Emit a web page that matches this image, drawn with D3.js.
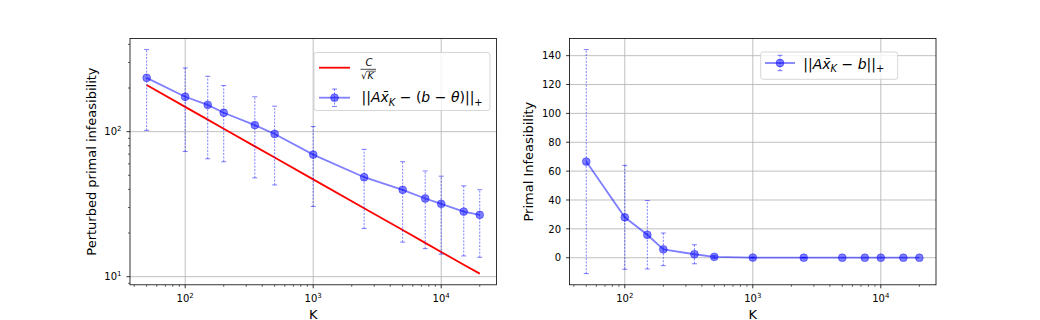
<!DOCTYPE html>
<html><head><meta charset="utf-8">
<script src="https://cdn.jsdelivr.net/npm/d3@7"></script>
<style>
html,body{margin:0;padding:0;background:#fff;}
svg{display:block;font-family:"DejaVu Sans",sans-serif;}
</style></head>
<body><svg id="c" width="1040" height="320"></svg>
<script>
// ---- data ----
const K = [50, 100, 150, 200, 350, 500, 1000, 2500, 5000, 7500, 10000, 15000, 20000];
const pertMean = [235, 174, 153, 135, 111, 96.4, 69.5, 48.5, 39.7, 34.6, 31.8, 28.1, 26.7];
const pertStd  = [133, 101, 88, 73, 63, 53.5, 39, 27, 22.4, 19, 17.5, 14.2, 13.1];
const boundC   = [209.6, 148.2, 121.0, 104.8, 79.2, 66.3, 46.9, 29.6, 21.0, 17.1, 14.8, 12.1, 10.5];
const primMean = [66.6, 28.0, 15.9, 5.8, 2.4, 0.6, 0.1, 0.05, 0.03, 0.02, 0.02, 0.01, 0.01];
const primStd  = [77.6, 36.0, 23.7, 11.3, 6.6, 1.0, 0.2, 0.1, 0, 0, 0, 0, 0];
const xMajor = [100, 1000, 10000];
const xMajorExp = ["2", "3", "4"];
const yLeftMajor = [10, 100];
const yLeftMajorExp = ["1", "2"];
const yRightTicks = [0, 20, 40, 60, 80, 100, 120, 140];

const svg = d3.select("#c");
const BLUE = "blue", RED = "red", GRID = "#b0b0b0";
const LABEL_FS = 13;

function logPadDomain(lo, hi) {
  const a = Math.log10(lo), b = Math.log10(hi), p = (b - a) * 0.05;
  return [Math.pow(10, a - p), Math.pow(10, b + p)];
}
function linPadDomain(lo, hi) { const p = (hi - lo) * 0.05; return [lo - p, hi + p]; }
function minorLog(dom) {
  const out = [];
  for (let d = -1; d <= 6; d++) for (let m = 2; m <= 9; m++) {
    const v = m * Math.pow(10, d);
    if (v >= dom[0] && v <= dom[1]) out.push(v);
  }
  return out;
}

function mtext(g, x, y, parts, fs, anchor) {
  const t = g.append("text").attr("x", x).attr("y", y).attr("font-size", fs)
    .attr("text-anchor", anchor || "start").style("white-space", "pre").attr("fill", "#000");
  let cur = 0;
  parts.forEach(p => {
    const off = p.sub ? fs * 0.26 : (p.sup ? -fs * 0.42 : 0);
    const s = t.append("tspan").text(p.t);
    if (off - cur !== 0) s.attr("dy", off - cur);
    cur = off;
    if (p.i) s.attr("font-style", "italic");
    if (p.sub || p.sup) s.attr("font-size", fs * 0.7);
  });
  return t;
}

const yTop = 38.4, yBot = 284.8;
const panels = [
  {x0: 130, x1: 496.4},
  {x0: 569.6, x1: 936}
];

const xDom = logPadDomain(d3.min(K), d3.max(K));

function drawXGrid(g, x) {
  xMajor.forEach(v => g.append("line").attr("x1", x(v)).attr("x2", x(v)).attr("y1", yTop).attr("y2", yBot)
    .attr("stroke", GRID).attr("stroke-width", 0.8));
}
function drawXTicks(g, x) {
  xMajor.forEach((v, i) => {
    g.append("line").attr("x1", x(v)).attr("x2", x(v)).attr("y1", yBot).attr("y2", yBot + 3.5).attr("stroke", "#000").attr("stroke-width", 0.8);
    mtext(g, x(v), yBot + 17, [{t: "10"}, {t: xMajorExp[i], sup: true}], 10, "middle");
  });
  minorLog(xDom).forEach(v => g.append("line").attr("x1", x(v)).attr("x2", x(v)).attr("y1", yBot).attr("y2", yBot + 2).attr("stroke", "#000").attr("stroke-width", 0.6));
}

function errorbars(g, x, y, means, stds) {
  K.forEach((k, i) => {
    if (stds[i] <= 0) return;
    const a = y(means[i] - stds[i]), b = y(means[i] + stds[i]), cx = x(k);
    g.append("line").attr("x1", cx).attr("x2", cx).attr("y1", a).attr("y2", b)
      .attr("stroke", BLUE).attr("stroke-opacity", 0.5).attr("stroke-width", 1).attr("stroke-dasharray", "2,1.4");
    [a, b].forEach(yy => g.append("line").attr("x1", cx - 2.5).attr("x2", cx + 2.5).attr("y1", yy).attr("y2", yy)
      .attr("stroke", BLUE).attr("stroke-opacity", 0.5).attr("stroke-width", 1));
  });
}
function seriesLine(g, x, y, means) {
  const line = d3.line().x((d, i) => x(K[i])).y(d => y(d));
  g.append("path").datum(means).attr("d", line).attr("fill", "none")
    .attr("stroke", BLUE).attr("stroke-opacity", 0.5).attr("stroke-width", 1.8);
  g.selectAll(null).data(means).enter().append("circle")
    .attr("cx", (d, i) => x(K[i])).attr("cy", d => y(d)).attr("r", 3.9)
    .attr("fill", BLUE).attr("fill-opacity", 0.5).attr("stroke", BLUE).attr("stroke-opacity", 0.5).attr("stroke-width", 0.8);
}
function legendHandle(g, x0, x1, yc, eh) {
  const cx = (x0 + x1) / 2;
  g.append("line").attr("x1", x0).attr("x2", x1).attr("y1", yc).attr("y2", yc).attr("stroke", BLUE).attr("stroke-opacity", 0.5).attr("stroke-width", 1.8);
  g.append("line").attr("x1", cx).attr("x2", cx).attr("y1", yc - eh).attr("y2", yc + eh).attr("stroke", BLUE).attr("stroke-opacity", 0.5).attr("stroke-dasharray", "2,1.4");
  [yc - eh, yc + eh].forEach(yy => g.append("line").attr("x1", cx - 2.5).attr("x2", cx + 2.5).attr("y1", yy).attr("y2", yy).attr("stroke", BLUE).attr("stroke-opacity", 0.5));
  g.append("circle").attr("cx", cx).attr("cy", yc).attr("r", 3.9).attr("fill", BLUE).attr("fill-opacity", 0.5).attr("stroke", BLUE).attr("stroke-opacity", 0.5).attr("stroke-width", 0.8);
}
function frame(g, p) {
  g.append("rect").attr("x", p.x0).attr("y", yTop).attr("width", p.x1 - p.x0).attr("height", yBot - yTop)
    .attr("fill", "none").attr("stroke", "#000").attr("stroke-width", 0.8);
}

// ---------- LEFT PANEL ----------
{
  const p = panels[0];
  const g = svg.append("g");
  const x = d3.scaleLog().domain(xDom).range([p.x0, p.x1]);
  const lows = pertMean.map((m, i) => m - pertStd[i]);
  const highs = pertMean.map((m, i) => m + pertStd[i]);
  const yDom = logPadDomain(Math.min(d3.min(lows), d3.min(boundC)), Math.max(d3.max(highs), d3.max(boundC)));
  const y = d3.scaleLog().domain(yDom).range([yBot, yTop]);

  drawXGrid(g, x);
  yLeftMajor.forEach(v => g.append("line").attr("x1", p.x0).attr("x2", p.x1).attr("y1", y(v)).attr("y2", y(v)).attr("stroke", GRID).attr("stroke-width", 0.8));

  g.append("path").datum(boundC).attr("d", d3.line().x((d, i) => x(K[i])).y(d => y(d)))
    .attr("fill", "none").attr("stroke", RED).attr("stroke-width", 1.8);
  errorbars(g, x, y, pertMean, pertStd);
  seriesLine(g, x, y, pertMean);

  frame(g, p);
  drawXTicks(g, x);
  yLeftMajor.forEach((v, i) => {
    g.append("line").attr("x1", p.x0 - 3.5).attr("x2", p.x0).attr("y1", y(v)).attr("y2", y(v)).attr("stroke", "#000").attr("stroke-width", 0.8);
    mtext(g, p.x0 - 8.5, y(v) + 3.6, [{t: "10"}, {t: yLeftMajorExp[i], sup: true}], 10, "end");
  });
  minorLog(yDom).forEach(v => g.append("line").attr("x1", p.x0 - 2).attr("x2", p.x0).attr("y1", y(v)).attr("y2", y(v)).attr("stroke", "#000").attr("stroke-width", 0.6));

  g.append("text").attr("x", (p.x0 + p.x1) / 2).attr("y", 318.5).attr("text-anchor", "middle").attr("font-size", LABEL_FS).text("K");
  g.append("text").attr("transform", `translate(95.5,${(yTop + yBot) / 2}) rotate(-90)`).attr("text-anchor", "middle").attr("font-size", LABEL_FS).text("Perturbed primal infeasibility");

  const L = g.append("g");
  L.append("rect").attr("x", 314).attr("y", 52.5).attr("width", 176).attr("height", 58).attr("rx", 2.5)
    .attr("fill", "#fff").attr("fill-opacity", 0.8).attr("stroke", "#cccccc").attr("stroke-width", 0.8);
  L.append("line").attr("x1", 319).attr("x2", 350).attr("y1", 67.7).attr("y2", 67.7).attr("stroke", RED).attr("stroke-width", 1.8);
  L.append("text").attr("x", 369).attr("y", 65.7).attr("font-size", 10).attr("font-style", "italic").attr("text-anchor", "middle").text("C");
  L.append("line").attr("x1", 360.5).attr("x2", 376).attr("y1", 69.3).attr("y2", 69.3).attr("stroke", "#000").attr("stroke-width", 0.7);
  L.append("text").attr("x", 361).attr("y", 78.5).attr("font-size", 9.5).text("√");
  L.append("text").attr("x", 367.5).attr("y", 78.5).attr("font-size", 9.5).attr("font-style", "italic").text("K");
  L.append("line").attr("x1", 367).attr("x2", 376).attr("y1", 71.2).attr("y2", 71.2).attr("stroke", "#000").attr("stroke-width", 0.6);
  legendHandle(L, 319, 350, 97.7, 8.7);
  mtext(L, 361.5, 102.3, [
    {t: "||"}, {t: "A", i: true}, {t: "x\u0304", i: true}, {t: "K", i: true, sub: true},
    {t: " \u2212 ("}, {t: "b", i: true}, {t: " \u2212 "}, {t: "\u03b8", i: true}, {t: ")||"}, {t: "+", sub: true}
  ], 14);
}

// ---------- RIGHT PANEL ----------
{
  const p = panels[1];
  const g = svg.append("g");
  const x = d3.scaleLog().domain(xDom).range([p.x0, p.x1]);
  const lows = primMean.map((m, i) => m - primStd[i]);
  const highs = primMean.map((m, i) => m + primStd[i]);
  const yDom = linPadDomain(d3.min(lows), d3.max(highs));
  const y = d3.scaleLinear().domain(yDom).range([yBot, yTop]);

  drawXGrid(g, x);
  yRightTicks.forEach(v => g.append("line").attr("x1", p.x0).attr("x2", p.x1).attr("y1", y(v)).attr("y2", y(v)).attr("stroke", GRID).attr("stroke-width", 0.8));

  errorbars(g, x, y, primMean, primStd);
  seriesLine(g, x, y, primMean);

  frame(g, p);
  drawXTicks(g, x);
  yRightTicks.forEach(v => {
    g.append("line").attr("x1", p.x0 - 3.5).attr("x2", p.x0).attr("y1", y(v)).attr("y2", y(v)).attr("stroke", "#000").attr("stroke-width", 0.8);
    g.append("text").attr("x", p.x0 - 8.5).attr("y", y(v) + 3.7).attr("text-anchor", "end").attr("font-size", 10).text(v);
  });

  g.append("text").attr("x", (p.x0 + p.x1) / 2).attr("y", 318.5).attr("text-anchor", "middle").attr("font-size", LABEL_FS).text("K");
  g.append("text").attr("transform", `translate(532.5,${(yTop + yBot) / 2}) rotate(-90)`).attr("text-anchor", "middle").attr("font-size", LABEL_FS).text("Primal Infeasibility");

  const L = g.append("g");
  L.append("rect").attr("x", 760.7).attr("y", 52).attr("width", 137).attr("height", 27.3).attr("rx", 2.5)
    .attr("fill", "#fff").attr("fill-opacity", 0.8).attr("stroke", "#cccccc").attr("stroke-width", 0.8);
  legendHandle(L, 765, 795, 63, 7.7);
  mtext(L, 803.3, 68.7, [
    {t: "||"}, {t: "A", i: true}, {t: "x\u0304", i: true}, {t: "K", i: true, sub: true},
    {t: " \u2212 "}, {t: "b", i: true}, {t: "||"}, {t: "+", sub: true}
  ], 14);
}
</script></body></html>
